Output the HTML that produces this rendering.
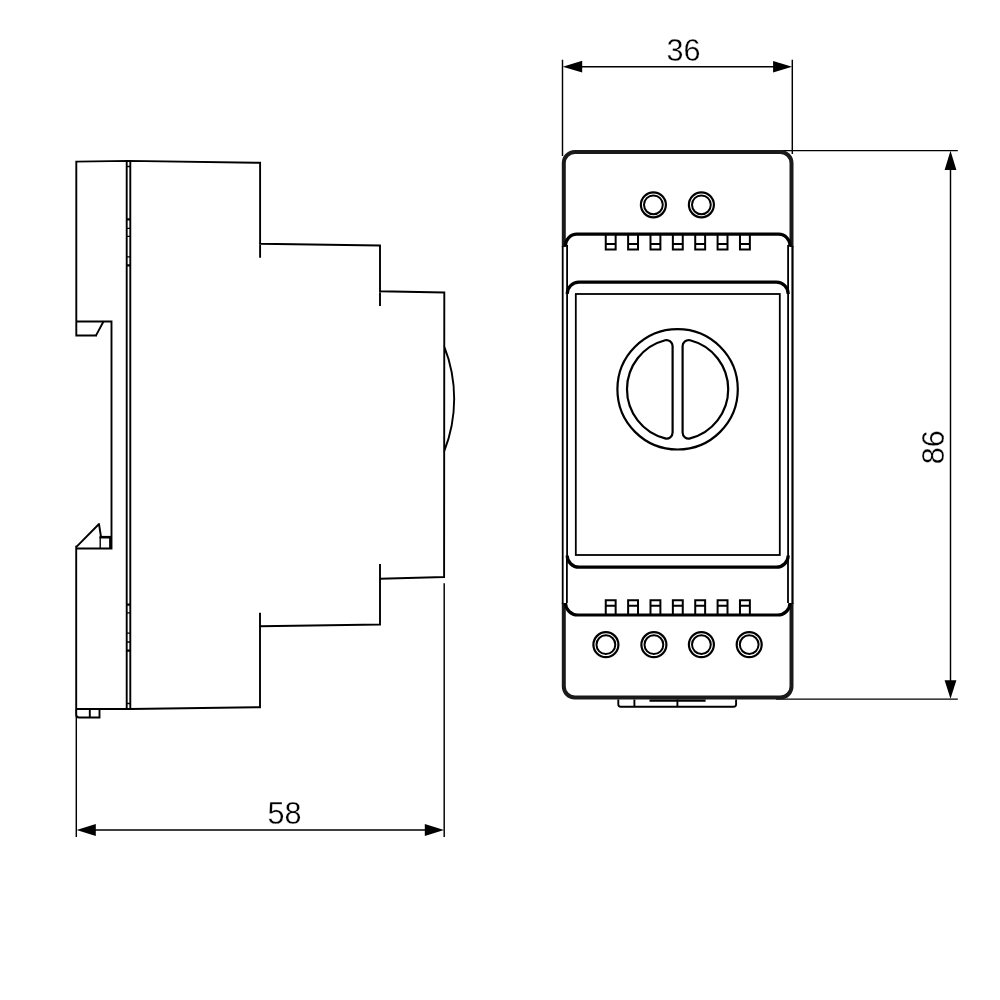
<!DOCTYPE html>
<html lang="en">
<head>
<meta charset="utf-8">
<title>Dimensional drawing 58 x 36 x 86</title>
<style>
html,body{margin:0;padding:0;background:#fff;}
body{width:1000px;height:1000px;overflow:hidden;}
svg{display:block;}
text{stroke:#fff;stroke-width:0.3px;paint-order:normal;}
text{filter:grayscale(1);}
</style>
</head>
<body>
<svg width="1000" height="1000" viewBox="0 0 1000 1000">
<rect width="1000" height="1000" fill="#fff"/>
<path d="M76.3,161.6 L128.5,160.9 L260.1,162.8 M260.1,162.8 V256.7 M260,243.8 L380,245.5 M380,245.5 V305 M380,291.3 L444.3,292.5 M444.3,292.5 L444.1,577 M444.2,346.3 A143,143 0 0 1 444.2,451.3 M444.1,577 L380,578.8 M380,565 V624.5 M380,624.5 L260,626.3 M260,613.8 V707.3 M260,707.2 L130.3,709 L76.2,709 M76.3,161.6 V335.5 H96 M76.3,321.5 H111.5 V548.5 H76.2 M76.2,546.8 V709 M126.7,161.8 V708.5 M130.3,161.8 V708.5 M76.2,709 V714.5 A3,3 0 0 0 79.2,717.5 H99.5 V709 M89.8,709 V717.5" fill="none" stroke="#000" stroke-width="1.9" stroke-linejoin="miter" stroke-linecap="square"/>
<path d="M76.4,546.8 L99,524 L101,537 H111.5" fill="none" stroke="#000" stroke-width="1.9" stroke-linejoin="round"/>
<path d="M95.8,335.9 L103.6,321.3" fill="none" stroke="#000" stroke-width="1.9"/>
<path d="M100.2,537.3 V548" fill="none" stroke="#000" stroke-width="1.4"/>
<path d="M99.5,537.2 H111.5" fill="none" stroke="#000" stroke-width="2.6"/>
<path d="M110.4,536 V548.5" fill="none" stroke="#000" stroke-width="2.6"/>
<path d="M126.7,166.5 H130.3 M126.7,228.4 H130.3 M126.7,236.4 H130.3 M126.7,256.8 H130.3 M126.7,612.8 H130.3 M126.7,633.2 H130.3 M126.7,642 H130.3 M126.7,703.5 H130.3" fill="none" stroke="#000" stroke-width="1.3"/>
<path d="M126.7,219.4 H130.3 M126.7,265.4 H130.3 M126.7,604.6 H130.3 M126.7,650.6 H130.3" fill="none" stroke="#000" stroke-width="2.2"/>
<path d="M76.3,709 V837 M444.2,583.3 V837 M90,830 H430 M562.5,59.8 V156 M792.3,59.8 V154 M578,66.7 H777 M776,150.6 H957.8 M776,699.1 H957.8 M950.5,165 V685" fill="none" stroke="#000" stroke-width="1.45"/>
<path d="M76.6,830 L95.8,824.1 V835.9 Z M444,830 L424.8,824.1 V835.9 Z M562.7,66.7 L582.2,60.8 V72.6 Z M792.1,66.7 L773.1,60.9 V72.5 Z M950.5,150.7 L944.6,170 H956.4 Z M950.5,698.8 L944.6,680.3 H956.4 Z" fill="#000" stroke="none"/>
<path d="M563.8,247 V163 A11,11 0 0 1 574.8,152 H780.5 A11,11 0 0 1 791.5,163 V247" fill="none" stroke="#1a1a1a" stroke-width="4.0"/>
<path d="M563.8,603 V686.5 A11,11 0 0 0 574.8,697.5 H780.5 A11,11 0 0 0 791.5,686.5 V603" fill="none" stroke="#1a1a1a" stroke-width="4.0"/>
<path d="M562.7,246 V604 M567.1,245 V556 M788.1,245 V556 M566.9,556 V603 M788,556 V603" fill="none" stroke="#000" stroke-width="1.8"/>
<path d="M792.5,246 V604" fill="none" stroke="#000" stroke-width="2.2"/>
<path d="M565.5,246.5 A11.5,11.5 0 0 1 577,234.2 H778.5 A11.5,11.5 0 0 1 790,246.5 M567.2,294 A11.8,11.8 0 0 1 579,282.1 H776.4 A11.8,11.8 0 0 1 788.2,294 M567.2,555.4 A11.8,11.8 0 0 0 579,567.2 H776.4 A11.8,11.8 0 0 0 788.2,555.4 M565.5,603 A12.2,12.2 0 0 0 577.7,615 H777.8 A12.2,12.2 0 0 0 790,603" fill="none" stroke="#000" stroke-width="3.2"/>
<rect x="575.8" y="294" width="204" height="261" fill="none" stroke="#000" stroke-width="1.8"/>
<path d="M605.75,234.5 V249.5 H615.65 V234.5 M605.75,244.1 H615.65 M605.75,615 V600.2 H615.65 V615 M605.75,605.7 H615.65 M628.12,234.5 V249.5 H638.02 V234.5 M628.12,244.1 H638.02 M628.12,615 V600.2 H638.02 V615 M628.12,605.7 H638.02 M650.49,234.5 V249.5 H660.39 V234.5 M650.49,244.1 H660.39 M650.49,615 V600.2 H660.39 V615 M650.49,605.7 H660.39 M672.86,234.5 V249.5 H682.76 V234.5 M672.86,244.1 H682.76 M672.86,615 V600.2 H682.76 V615 M672.86,605.7 H682.76 M695.23,234.5 V249.5 H705.13 V234.5 M695.23,244.1 H705.13 M695.23,615 V600.2 H705.13 V615 M695.23,605.7 H705.13 M717.60,234.5 V249.5 H727.50 V234.5 M717.60,244.1 H727.50 M717.60,615 V600.2 H727.50 V615 M717.60,605.7 H727.50 M739.97,234.5 V249.5 H749.87 V234.5 M739.97,244.1 H749.87 M739.97,615 V600.2 H749.87 V615 M739.97,605.7 H749.87" fill="none" stroke="#000" stroke-width="2"/>
<circle cx="653.4" cy="204.8" r="12.5" fill="none" stroke="#000" stroke-width="2.2"/>
<circle cx="653.4" cy="204.8" r="9.4" fill="none" stroke="#000" stroke-width="2.0"/>
<circle cx="701.4" cy="204.8" r="12.5" fill="none" stroke="#000" stroke-width="2.2"/>
<circle cx="701.4" cy="204.8" r="9.4" fill="none" stroke="#000" stroke-width="2.0"/>
<circle cx="605.9" cy="644.7" r="12.5" fill="none" stroke="#000" stroke-width="2.2"/>
<circle cx="605.9" cy="644.7" r="9.4" fill="none" stroke="#000" stroke-width="2.0"/>
<circle cx="653.9" cy="644.7" r="12.5" fill="none" stroke="#000" stroke-width="2.2"/>
<circle cx="653.9" cy="644.7" r="9.4" fill="none" stroke="#000" stroke-width="2.0"/>
<circle cx="701.4" cy="644.6" r="12.5" fill="none" stroke="#000" stroke-width="2.2"/>
<circle cx="701.4" cy="644.6" r="9.4" fill="none" stroke="#000" stroke-width="2.0"/>
<circle cx="749.2" cy="644.6" r="12.5" fill="none" stroke="#000" stroke-width="2.2"/>
<circle cx="749.2" cy="644.6" r="9.4" fill="none" stroke="#000" stroke-width="2.0"/>
<circle cx="677.6" cy="389.3" r="60.2" fill="none" stroke="#000" stroke-width="2.2"/>
<path d="M672.60,346.08 A6.0,6.0 0 0 0 665.12,340.26 A50.6,50.6 0 0 0 665.12,438.34 A6.0,6.0 0 0 0 672.60,432.52 Z M682.60,346.08 A6.0,6.0 0 0 1 690.08,340.26 A50.6,50.6 0 0 1 690.08,438.34 A6.0,6.0 0 0 1 682.60,432.52 Z" fill="none" stroke="#000" stroke-width="2.2"/>
<path d="M618.3,699.5 V704.3 A2.5,2.5 0 0 0 620.8,706.8 H733.6 A2.5,2.5 0 0 0 736.1,704.3 V699.5 M634.4,699.5 V706.8 M677.4,699.5 V706.8" fill="none" stroke="#000" stroke-width="1.9"/>
<path d="M649.5,700.6 H705.6" fill="none" stroke="#000" stroke-width="2.2"/>
<text x="683.5" y="61" font-family="'Liberation Sans', sans-serif" font-size="30.6" fill="#000" text-anchor="middle">36</text>
<text x="284.5" y="824" font-family="'Liberation Sans', sans-serif" font-size="30.6" fill="#000" text-anchor="middle">58</text>
<text transform="translate(943.5,447.3) rotate(-90)" x="0" y="0" font-family="'Liberation Sans', sans-serif" font-size="30.6" fill="#000" text-anchor="middle">86</text>
</svg>
</body>
</html>
